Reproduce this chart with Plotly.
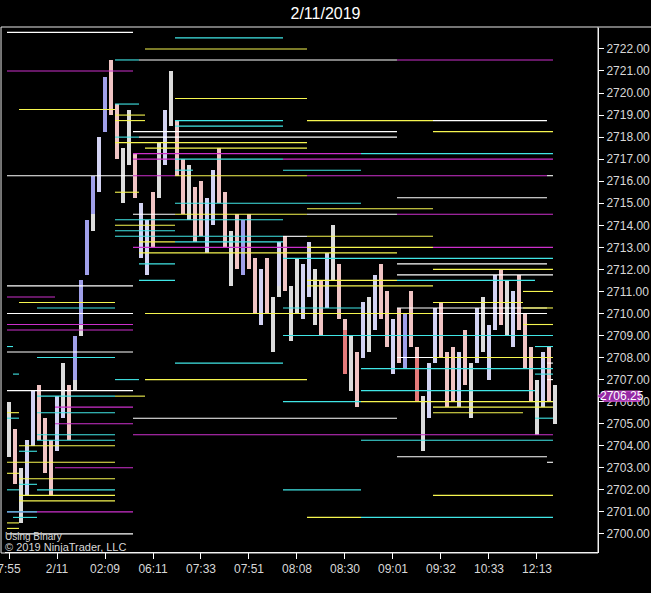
import plotly.graph_objects as go

# ---------------- data ----------------
bar_high = [2706.0, 2704.75, 2703.0, 2704.25, 2706.5, 2706.75, 2705.25, 2704.25, 2706.25, 2707.75,
            2706.75, 2709.0, 2711.5, 2714.25, 2716.25, 2718.0, 2720.75, 2721.5, 2719.5, 2717.5,
            2719.25, 2717.25, 2715.0, 2714.25, 2715.5, 2717.75, 2719.25, 2721.0, 2718.75, 2717.0,
            2716.75, 2715.75, 2716.0, 2715.25, 2716.5, 2717.5, 2715.5, 2713.75, 2714.5, 2714.25,
            2714.5, 2712.5, 2712.0, 2712.5, 2710.75, 2713.25, 2713.5, 2711.25, 2712.5, 2712.25,
            2713.25, 2712.0, 2711.5, 2712.75, 2714.0, 2712.25, 2709.75, 2709.0, 2708.25, 2710.5,
            2710.75, 2711.75, 2712.25, 2711.0, 2709.75, 2710.25, 2710.0, 2711.0, 2708.5, 2706.25,
            2707.75, 2710.25, 2710.5, 2708.25, 2708.5, 2708.25, 2709.25, 2707.75, 2710.25, 2710.75,
            2709.5, 2711.75, 2712.0, 2711.5, 2711.0, 2711.75, 2710.0, 2708.5, 2707.0, 2708.25,
            2708.5, 2706.75]
bar_low = [2703.5, 2702.25, 2700.5, 2701.75, 2704.0, 2704.25, 2702.75, 2701.75, 2703.75, 2705.25,
           2704.25, 2706.5, 2709.0, 2711.75, 2713.75, 2715.5, 2718.25, 2719.0, 2717.0, 2715.0,
           2716.75, 2715.25, 2712.5, 2711.75, 2713.0, 2715.25, 2716.75, 2718.5, 2716.25, 2714.5,
           2714.25, 2713.25, 2713.5, 2712.75, 2714.0, 2715.0, 2713.0, 2711.25, 2712.0, 2711.75,
           2712.0, 2710.0, 2709.5, 2710.0, 2708.25, 2710.75, 2711.0, 2708.75, 2710.0, 2709.75,
           2710.75, 2709.5, 2709.0, 2710.25, 2711.5, 2709.75, 2707.25, 2706.5, 2705.75, 2708.0,
           2708.25, 2709.25, 2709.75, 2708.5, 2707.25, 2707.75, 2707.5, 2708.5, 2706.0, 2703.75,
           2705.25, 2707.75, 2708.0, 2705.75, 2706.0, 2705.75, 2706.75, 2705.25, 2707.75, 2708.25,
           2707.0, 2709.25, 2709.5, 2709.0, 2708.5, 2709.25, 2707.5, 2706.0, 2704.5, 2705.75,
           2706.0, 2705.0]
bar_kind = ["w", "p", "w", "l", "l", "p", "p", "p", "l", "w",
            "p", "b", "b", "b", "b", "l", "b", "p", "p", "w",
            "w", "p", "l", "l", "p", "w", "l", "w", "p", "p",
            "w", "p", "p", "l", "l", "p", "p", "w", "p", "b",
            "p", "p", "l", "p", "w", "l", "p", "w", "w", "l",
            "l", "w", "p", "l", "w", "p", "r", "w", "p", "l",
            "w", "l", "p", "p", "l", "p", "b", "p", "r", "w",
            "l", "l", "p", "p", "p", "l", "p", "w", "l", "w",
            "l", "l", "p", "w", "l", "p", "p", "p", "w", "l",
            "p", "w"]

# two-tone parts of some bars
accent_index = [9, 11, 12, 14, 45, 56, 68]
accent_low = [2705.25, 2706.5, 2709.0, 2713.75, 2710.75, 2709.25, 2708.0]
accent_high = [2705.75, 2707.0, 2709.5, 2714.5, 2711.25, 2709.75, 2708.5]
accent_kind = ["l", "w", "w", "w", "w", "p", "p"]

x_tick_pos = [0, 8, 16, 24, 32, 40, 48, 56, 64, 72, 80, 88]
x_tick_text = ["7:55", "2/11", "02:09", "06:11", "07:33", "07:51", "08:08", "08:30",
               "09:01", "09:32", "10:33", "12:13"]

last_price = 2706.25

# horizontal level lines: price, start bar, end bar
white_price = [2722.75, 2721.5, 2718.75, 2718.25, 2718.0, 2716.25, 2716.25, 2715.25, 2714.5, 2714.5,
               2713.5, 2712.25, 2711.75, 2711.25, 2710.25, 2710.0, 2710.0, 2708.25, 2708.0, 2707.75,
               2707.0, 2706.5, 2705.25, 2703.5, 2703.25, 2700.0]
white_start = [0, 22, 71, 21, 22, 0, 90, 65, 21, 50,
               46, 65, 65, 0, 65, 0, 71, 0, 65, 90,
               90, 0, 21, 65, 90, 0]
white_end = [21, 65, 90, 65, 65, 21, 91, 90, 28, 65,
             50, 90, 91, 21, 90, 21, 90, 21, 71, 91,
             91, 21, 65, 90, 91, 21]

magenta_price = [2721.5, 2721.0, 2717.25, 2717.0, 2717.0, 2716.25, 2716.25, 2714.5, 2713.0, 2713.0,
                 2710.75, 2709.5, 2709.25, 2705.75, 2705.0, 2704.5, 2703.0, 2701.0]
magenta_start = [65, 0, 21, 21, 46, 21, 50, 65, 21, 71,
                 0, 0, 0, 8, 8, 21, 8, 0]
magenta_end = [91, 21, 59, 28, 91, 28, 90, 91, 50, 91,
               8, 21, 21, 21, 21, 91, 21, 21]

yellow_price = [2722.0, 2719.75, 2719.25, 2719.0, 2718.75, 2718.75, 2718.25, 2717.75, 2717.5, 2716.25,
                2715.5, 2714.75, 2714.5, 2714.0, 2713.5, 2713.25, 2713.0, 2712.75, 2712.0, 2711.5,
                2711.25, 2711.0, 2710.5, 2710.5, 2710.25, 2710.0, 2709.5, 2708.0, 2707.0, 2706.25,
                2706.0, 2705.75, 2705.5, 2705.5, 2704.0, 2703.25, 2702.75, 2702.5, 2701.75, 2701.75,
                2701.5, 2700.75, 2700.5, 2700.25]
yellow_start = [23, 28, 2, 18, 18, 50, 71, 18, 23, 28,
                18, 50, 28, 18, 50, 22, 50, 22, 71, 50,
                50, 86, 2, 71, 86, 23, 86, 71, 23, 18,
                59, 71, 0, 71, 2, 0, 0, 2, 2, 71,
                2, 50, 0, 0]
yellow_end = [50, 50, 18, 23, 23, 71, 91, 50, 50, 50,
              22, 71, 50, 28, 71, 28, 71, 65, 91, 65,
              71, 91, 18, 86, 91, 71, 91, 91, 50, 23,
              91, 91, 2, 86, 18, 18, 2, 18, 18, 91,
              18, 59, 2, 2]

cyan_price = [2722.5, 2721.5, 2719.5, 2718.75, 2718.5, 2718.0, 2717.25, 2717.0, 2716.5, 2716.5,
              2715.0, 2714.25, 2713.75, 2713.5, 2713.25, 2712.5, 2712.25, 2711.5, 2711.5, 2710.25,
              2710.25, 2709.0, 2708.5, 2708.5, 2708.0, 2707.75, 2707.5, 2707.25, 2707.25, 2707.0,
              2706.5, 2706.25, 2706.0, 2705.5, 2705.25, 2705.25, 2704.5, 2704.25, 2704.25, 2703.75,
              2702.25, 2702.0, 2702.0, 2702.0, 2701.0, 2700.75, 2700.75]
cyan_start = [28, 18, 18, 28, 28, 18, 59, 28, 28, 46,
              28, 18, 18, 18, 28, 46, 22, 22, 65, 5,
              46, 46, 0, 88, 5, 28, 59, 1, 88, 18,
              59, 5, 46, 5, 0, 88, 5, 5, 59, 2,
              2, 0, 5, 46, 0, 1, 59]
cyan_end = [46, 22, 22, 46, 46, 22, 91, 46, 31, 59,
            59, 46, 28, 46, 46, 91, 28, 28, 88, 18,
            59, 91, 1, 91, 18, 46, 91, 2, 91, 22,
            88, 18, 59, 18, 2, 91, 18, 18, 91, 5,
            5, 2, 18, 59, 5, 5, 91]

# ---------------- styling ----------------
bar_palette = {"w": "#dcdcdc", "p": "#f0c4c4", "l": "#d2d2f2", "b": "#a0a0ea", "r": "#e47a7a"}
line_palette = {"white": "#ffffff", "magenta": "#cc30cc", "yellow": "#f6f650", "cyan": "#40e6e6"}
BG = "#000000"
TXT = "#d8d8d8"
NARROW = "Liberation Sans Narrow, Arial Narrow, Liberation Sans, Arial, sans-serif"
OFF = 1.0 / 3.0   # levels start a third of a slot before the bar centre

fig = go.Figure()

idx = list(range(len(bar_high)))
fig.add_trace(go.Bar(
    x=idx, y=[h - l for h, l in zip(bar_high, bar_low)], base=bar_low,
    width=0.8, marker=dict(color=[bar_palette[k] for k in bar_kind], line=dict(width=0)),
    hoverinfo="skip"))
fig.add_trace(go.Bar(
    x=accent_index, y=[h - l for h, l in zip(accent_high, accent_low)], base=accent_low,
    width=0.8, marker=dict(color=[bar_palette[k] for k in accent_kind], line=dict(width=0)),
    hoverinfo="skip"))


def add_levels(prices, starts, ends, color):
    xs, ys = [], []
    for p, s, e in zip(prices, starts, ends):
        xs += [s - OFF, e - OFF, None]
        ys += [p, p, None]
    fig.add_trace(go.Scatter(x=xs, y=ys, mode="lines", line=dict(color=color, width=1.1),
                             hoverinfo="skip", connectgaps=False))


add_levels(white_price, white_start, white_end, line_palette["white"])
add_levels(magenta_price, magenta_start, magenta_end, line_palette["magenta"])
add_levels(yellow_price, yellow_start, yellow_end, line_palette["yellow"])
add_levels(cyan_price, cyan_start, cyan_end, line_palette["cyan"])

fig.update_layout(
    width=651, height=593,
    paper_bgcolor=BG, plot_bgcolor=BG,
    margin=dict(l=5, r=53, t=28, b=41, autoexpand=False),
    showlegend=False, barmode="overlay", bargap=0,
    title=dict(text="2/11/2019", x=0.5, xref="container", xanchor="center",
               y=1 - 13 / 593, yref="container", yanchor="middle",
               font=dict(family="Liberation Sans, Arial, sans-serif", size=16, color="#ffffff")),
    xaxis=dict(range=[-0.667, 98.17], tickvals=x_tick_pos, ticktext=x_tick_text,
               showgrid=False, zeroline=False, showline=True, linecolor="#ffffff", linewidth=1,
               ticks="outside", ticklen=6, tickcolor="#ffffff", tickwidth=1,
               ticklabeloverflow="allow", automargin=False,
               tickfont=dict(family=NARROW, size=12, color=TXT), fixedrange=True),
    yaxis=dict(range=[2699.18, 2722.95], side="right", dtick=1, tick0=2700, tickformat=".2f",
               showgrid=False, zeroline=False, showline=True, linecolor="#ffffff", linewidth=1,
               ticks="outside", ticklen=5, tickcolor="#ffffff", tickwidth=1, automargin=False,
               tickfont=dict(family=NARROW, size=12, color=TXT), fixedrange=True),
)

# panel frame
fig.add_shape(type="rect", xref="paper", yref="paper", x0=-0.0067, x1=1.0, y0=-0.0019, y1=1.0019,
              line=dict(color="#e8e8e8", width=1), layer="above")
fig.add_shape(type="line", xref="paper", yref="paper", x0=1.0, x1=1.09, y0=1.0019, y1=1.0019,
              line=dict(color="#e8e8e8", width=1))

# last price marker
half = 0.23
fig.add_shape(type="path", xref="paper", yref="y",
              path=(f"M 1.0,{last_price} L 1.0101,{last_price + half} L 1.0708,{last_price + half} "
                    f"L 1.0708,{last_price - half} L 1.0101,{last_price - half} Z"),
              fillcolor="#9428a4", line=dict(color="#e060e0", width=1), layer="above")
fig.add_annotation(x=1.0405, y=last_price, xref="paper", yref="y", text=f"{last_price:.2f}",
                   showarrow=False, xanchor="center", yanchor="middle",
                   font=dict(family=NARROW, size=12, color="#ffffff"))

# footer texts
fig.add_annotation(x=-0.0034, y=0.0295, xref="paper", yref="paper", text="Using Binary",
                   showarrow=False, xanchor="left", yanchor="middle",
                   font=dict(family="Liberation Sans, Arial, sans-serif", size=10, color=TXT))
fig.add_annotation(x=-0.0034, y=0.0086, xref="paper", yref="paper", text="© 2019 NinjaTrader, LLC",
                   showarrow=False, xanchor="left", yanchor="middle",
                   font=dict(family="Liberation Sans, Arial, sans-serif", size=11, color=TXT))

fig.write_html(
    "out.html",
    config={"displayModeBar": False, "staticPlot": True},
    post_script="document.body.style.margin='0';document.body.style.overflow='hidden';"
                "document.body.style.background='#000';",
)
